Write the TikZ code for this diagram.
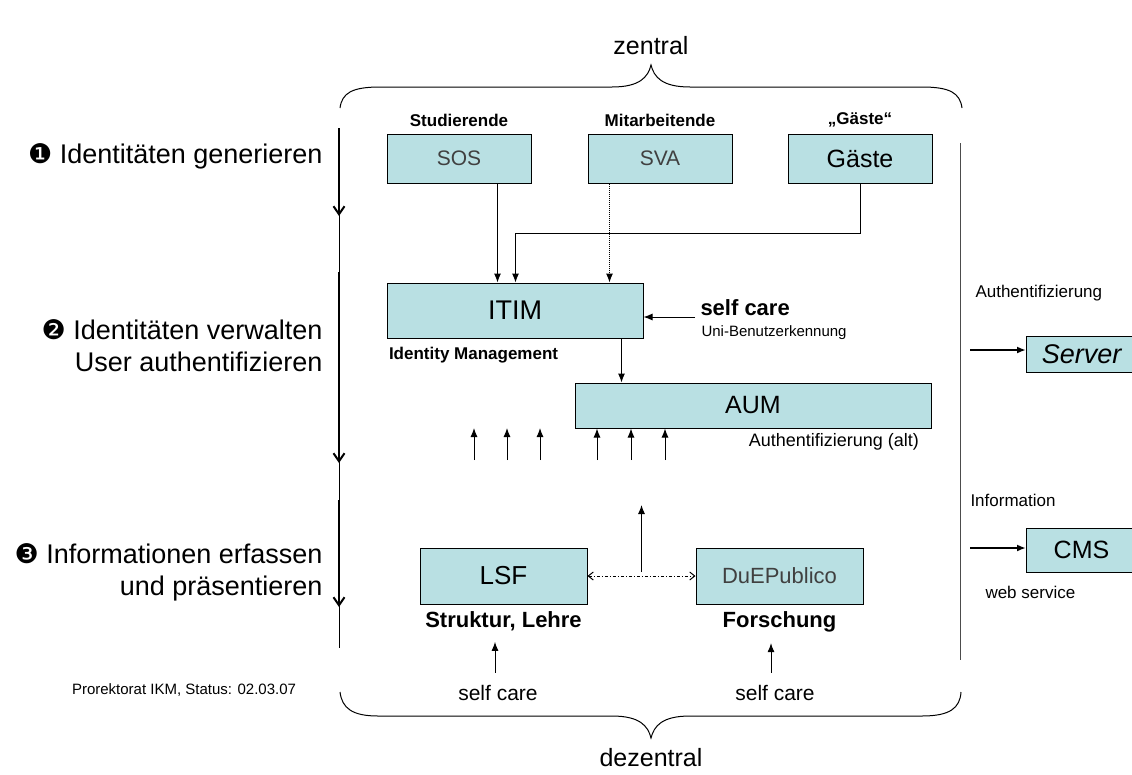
\documentclass[tikz,border=0pt]{standalone}
\usepackage{fontspec}
\setmainfont{Liberation Sans}
\newfontfamily\dingfont{DejaVu Sans}
\usepackage{tikz}
\usetikzlibrary{calc,positioning,shapes,arrows,arrows.meta}

\definecolor{boxcyan}{RGB}{185,224,227}
\newcommand{\fsz}[1]{\fontsize{#1}{#1}\selectfont}

\begin{document}
\begin{tikzpicture}[x=1pt,y=-1pt,line width=1pt,>={Latex[length=9pt,width=7pt]},
		every node/.style={inner sep=0pt},
		sysbox/.style={shape=rectangle,draw,fill=boxcyan},
		topbox/.style={sysbox,minimum width=144,minimum height=49},
		lowbox/.style={sysbox,minimum width=167,minimum height=56},
		sidebox/.style={sysbox,minimum width=110,anchor=west},
		grouplbl/.style={font=\bfseries\fsz{17}},
		stagelbl/.style={font=\fsz{27},anchor=east,align=right},
		timeline/.style={line width=2pt,-{Straight Barb[length=8pt,width=11pt]}}]
	\useasboundingbox (0,0) rectangle (1132,774);
	\begin{scope}
		% phases on the left
		\draw (339,128) -- (339,648);
		\draw[timeline] (339,128) -- (339,216);
		\draw[timeline] (339,272) -- (339,463);
		\draw[timeline] (339,500) -- (339,607);
		\node(st1) [stagelbl] at (323,156) {{\dingfont ❶} Identitäten generieren};
		\node(st2) [stagelbl,text depth=0pt] at (323,346) {{\dingfont ❷} Identitäten verwalten\\[5pt]User authentifizieren};
		\node(st3) [stagelbl] at (323,572) {{\dingfont ❸} Informationen erfassen\\[5pt]und präsentieren};
		\node(prorek) [font=\fsz{15}] at (184,690) {Prorektorat IKM, Status: 02.03.07};

		% braces
		\node(zen) [font=\fsz{25}] at (651,46) {zentral};
		\draw (340,108) .. controls (342,93) and (352,87) .. (380,87) -- (612,87)
			.. controls (640,87) and (648,77) .. (651,65) .. controls (654,77) and (662,87) .. (690,87)
			-- (922,87) .. controls (950,87) and (960,93) .. (962,108);
		\draw (340,692) .. controls (342,708) and (352,716) .. (378,716) -- (612,716)
			.. controls (640,716) and (648,726) .. (651,738) .. controls (654,726) and (662,716) .. (690,716)
			-- (922,716) .. controls (950,716) and (960,708) .. (961,692);
		\node(dez) [font=\fsz{25}] at (651,758) {dezentral};

		% sources
		\node(sos) [topbox,font=\fsz{21},text=black!75] at (459,158.5) {SOS};
		\node(sva) [topbox,font=\fsz{21},text=black!75] at (660,158.5) {SVA};
		\node(gae) [topbox,font=\fsz{25}] at (860,158.5) {Gäste};
		\node [grouplbl,above=6pt of sos] {Studierende};
		\node [grouplbl,above=6pt of sva] {Mitarbeitende};
		\node [grouplbl,above=6pt of gae] {„Gäste“};

		% identity management
		\node(itim) [sysbox,minimum width=256,minimum height=55,font=\fsz{27}] at (515,310.5) {ITIM};
		\node(idm) [font=\bfseries\fsz{17},anchor=north west] at ($(itim.south west)+(2,8)$) {Identity Management};
		\node(selfc) [font=\bfseries\fsz{22},anchor=west] at (700,308) {self care};
		\node(unibk) [font=\fsz{15},anchor=west] at (701,333) {Uni-Benutzerkennung};
		\node(aum) [sysbox,minimum width=356,minimum height=45,font=\fsz{25}] at (753,405.5) {AUM};
		\node(authalt) [font=\fsz{18},anchor=north east] at ($(aum.south east)+(-12,4)$) {Authentifizierung (alt)};

		\coordinate (in1) at ($(itim.north west)+(111,0)$);
		\coordinate (in2) at ($(itim.north west)+(129,0)$);
		\coordinate (in3) at ($(itim.north west)+(223,0)$);
		\coordinate (gbend) at (in2 |- 0,233);
		\draw[->] (sos.south -| in1) -- (in1);
		\draw[->] (gae.south) |- (gbend) -- (in2);
		\draw[->,densely dotted] (sva.south -| in3) -- (in3);
		\coordinate (scin) at (695,317);
		\draw[->] (scin) -- (scin -| itim.east);
		\coordinate (ia) at ($(itim.south east)+(-22,0)$);
		\draw[->] (ia) -- (ia |- aum.north);
		\foreach \x in {474,507,540}
			\draw[->] (\x,460) -- (\x,428);
		\foreach \x in {597,631,665}
			\draw[->] (\x,460) -- (\x,460 |- aum.south);

		% information
		\node(lsf) [lowbox,font=\fsz{26}] at (503.5,576) {LSF};
		\node(due) [lowbox,font=\fsz{22},text=black!75] at (779.5,576) {DuEPublico};
		\node(struk) [font=\bfseries\fsz{22},below=7pt of lsf] {Struktur, Lehre};
		\node(forsch) [font=\bfseries\fsz{22},below=7pt of due] {Forschung};
		\draw[dash dot,{Straight Barb[length=5pt,width=8pt]}-{Straight Barb[length=5pt,width=8pt]}] (lsf.east) -- (due.west);
		\coordinate (mid) at ($(lsf.east)!0.5!(due.west)$);
		\draw[->] ([yshift=4pt]mid) -- ++(0,-67);
		\node(scl) [font=\fsz{21}] at (498,693) {self care};
		\node(scr) [font=\fsz{21}] at (775,693) {self care};
		\draw[->] ([yshift=12pt,xshift=-3pt]scl.north) -- ([yshift=-10pt,xshift=-3pt]scl.north |- struk.south);
		\draw[->] ([yshift=12pt,xshift=-4pt]scr.north) -- ([yshift=-10pt,xshift=-4pt]scr.north |- forsch.south);

		% services on the right
		\draw[black!70] (960,143) -- (960,660);
		\node(authr) [font=\fsz{17},anchor=west] at (975,293) {Authentifizierung};
		\node(server) [sidebox,minimum height=36,font=\itshape\fsz{27}] at (1026,354.5) {Server};
		\node(infor) [font=\fsz{17},anchor=west] at (970,500) {Information};
		\node(cms) [sidebox,minimum height=44,font=\fsz{25}] at (1026,550) {CMS};
		\node(websv) [font=\fsz{17},anchor=west] at (985,592) {web service};
		\coordinate (authin) at (970,350);
		\coordinate (infoin) at (970,548);
		\draw[->,line width=2pt] (authin) -- (authin -| server.west);
		\draw[->,line width=2pt] (infoin) -- (infoin -| cms.west);
	\end{scope}
\end{tikzpicture}
\end{document}
